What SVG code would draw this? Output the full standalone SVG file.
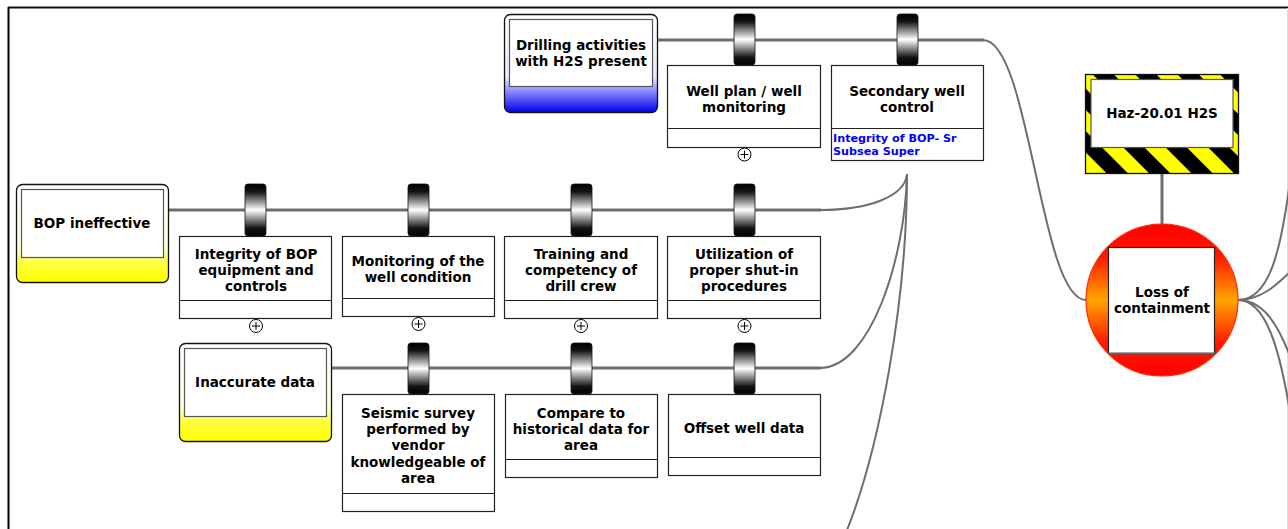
<svg xmlns="http://www.w3.org/2000/svg" width="1288" height="529" viewBox="0 0 1288 529">
  <defs>
    <linearGradient id="gTab" x1="0" y1="0" x2="0" y2="1">
      <stop offset="0" stop-color="#000"/>
      <stop offset="0.15" stop-color="#141414"/>
      <stop offset="0.5" stop-color="#ffffff"/>
      <stop offset="0.85" stop-color="#141414"/>
      <stop offset="1" stop-color="#000"/>
    </linearGradient>
    <linearGradient id="gYellow" x1="0" y1="0" x2="0" y2="1">
      <stop offset="0" stop-color="#ffffff"/>
      <stop offset="0.64" stop-color="#ffffe0"/>
      <stop offset="0.8" stop-color="#ffff40"/>
      <stop offset="1" stop-color="#ffff00"/>
    </linearGradient>
    <linearGradient id="gBlue" x1="0" y1="0" x2="0" y2="1">
      <stop offset="0" stop-color="#ffffff"/>
      <stop offset="0.64" stop-color="#e6e6ff"/>
      <stop offset="0.78" stop-color="#8c8cff"/>
      <stop offset="1" stop-color="#0000f0"/>
    </linearGradient>
    <linearGradient id="gTop" x1="0" y1="0" x2="0" y2="1">
      <stop offset="0" stop-color="#ff0000"/>
      <stop offset="0.22" stop-color="#ff1a00"/>
      <stop offset="0.5" stop-color="#ffa500"/>
      <stop offset="0.78" stop-color="#ff1a00"/>
      <stop offset="1" stop-color="#ff0000"/>
    </linearGradient>
    <pattern id="hazStripes" width="30" height="30" patternUnits="userSpaceOnUse" patternTransform="rotate(-45)">
      <rect width="30" height="30" fill="#ffff00"/>
      <rect width="15" height="30" fill="#000"/>
    </pattern>
    <style>
      text { font-family: "DejaVu Sans", Verdana, sans-serif; font-weight: bold; font-size: 13.5px; fill: #000; text-anchor: middle; }
      .note { font-size: 11.2px; fill: #0000ff; text-anchor: start; }
      .box { fill: #fff; stroke: #222; stroke-width: 1.2; }
      .div { stroke: #222; stroke-width: 1.2; }
      .tab { fill: url(#gTab); stroke: #111; stroke-width: 0.8; }
      .line { fill: none; stroke: #6e6e6e; stroke-width: 3; }
      .curve { fill: none; stroke: #6e6e6e; stroke-width: 2; }
      .inner { fill: #fff; stroke: #555; stroke-width: 1.2; }
      .plus { fill: #fff; stroke: #000; stroke-width: 1; }
    </style>
  </defs>

  <rect width="1288" height="529" fill="#fff"/>

  <!-- page frame -->
  <g id="frame">
    <line x1="8" y1="7.5" x2="1288" y2="7.5" stroke="#111" stroke-width="2"/>
    <line x1="8.5" y1="7" x2="8.5" y2="529" stroke="#000" stroke-width="2"/>
    <line x1="1287.5" y1="8" x2="1287.5" y2="529" stroke="#ddd" stroke-width="1"/>
  </g>

  <!-- connectors -->
  <g id="connectors">
    <path class="line" d="M658,40 H984"/>
    <path class="curve" d="M983,40 C1030,40 1040,300 1086,300"/>
    <path class="line" d="M168,210 H821"/>
    <path class="line" d="M332,368 H821"/>
    <path class="curve" d="M820,210 C870,210 905,196 907,174"/>
    <path class="curve" d="M820,368 C870,368 905,260 907,174"/>
    <path class="curve" d="M907,174 C907,300 880,450 845,535"/>
    <path class="line" d="M1162,173 V226"/>
    <path class="curve" d="M1238,300 C1270,300 1282,250 1292,165"/>
    <path class="curve" d="M1238,300 C1260,300 1276,286 1292,270"/>
    <path class="curve" d="M1238,300 C1262,300 1278,322 1292,362"/>
    <path class="curve" d="M1238,300 C1265,300 1280,345 1292,425"/>
  </g>

  <!-- threat: drilling activities -->
  <g id="threat-drilling">
    <rect x="504.5" y="14.5" width="153" height="98" rx="6" fill="url(#gBlue)" stroke="#111" stroke-width="1.3"/>
    <rect class="inner" x="509.5" y="19.5" width="143" height="67"/>
    <text x="581" y="50">Drilling activities</text>
    <text x="581" y="66">with H2S present</text>
  </g>

  <!-- barrier: well plan -->
  <g id="barrier-well-plan">
    <rect class="tab" x="734" y="14" width="21" height="51" rx="3"/>
    <rect class="box" x="667.5" y="65.5" width="153" height="82"/>
    <line class="div" x1="667.5" y1="128.5" x2="820.5" y2="128.5"/>
    <text x="744" y="96">Well plan / well</text>
    <text x="744" y="112">monitoring</text>
    <circle class="plus" cx="744.5" cy="154.5" r="6.5"/>
    <path d="M740.5,154.5 H748.5 M744.5,150.5 V158.5" stroke="#000" stroke-width="1"/>
  </g>

  <!-- barrier: secondary well control -->
  <g id="barrier-secondary">
    <rect class="tab" x="897" y="14" width="21" height="51" rx="3"/>
    <rect class="box" x="831.5" y="65.5" width="152" height="95"/>
    <line class="div" x1="831.5" y1="128.5" x2="983.5" y2="128.5"/>
    <text x="907" y="96">Secondary well</text>
    <text x="907" y="112">control</text>
    <text class="note" x="833" y="141.5">Integrity of BOP- Sr</text>
    <text class="note" x="833" y="154.5">Subsea Super</text>
  </g>

  <!-- hazard -->
  <g id="hazard">
    <rect x="1085.5" y="74.5" width="153" height="99" fill="url(#hazStripes)" stroke="#111" stroke-width="1.3"/>
    <rect class="inner" x="1091" y="79.5" width="142" height="68" stroke="#777"/>
    <text x="1162" y="118">Haz-20.01 H2S</text>
  </g>

  <!-- top event -->
  <g id="top-event">
    <circle cx="1162" cy="300" r="76" fill="url(#gTop)" stroke="#ff2a00" stroke-width="1.2"/>
    <rect x="1108.5" y="247.5" width="106" height="106" fill="#fff" stroke="#222" stroke-width="1.2"/>
    <line x1="1108" y1="353.5" x2="1215" y2="353.5" stroke="#666" stroke-width="2"/>
    <text x="1162" y="297">Loss of</text>
    <text x="1162" y="313">containment</text>
  </g>

  <!-- escalation factor: BOP ineffective -->
  <g id="factor-bop">
    <rect x="16.5" y="184.5" width="152" height="98" rx="6" fill="url(#gYellow)" stroke="#111" stroke-width="1.3"/>
    <rect class="inner" x="21.5" y="189.5" width="142" height="68"/>
    <text x="92" y="228">BOP ineffective</text>
  </g>

  <g id="barrier-integrity">
    <rect class="tab" x="245" y="184" width="21" height="52" rx="3"/>
    <rect class="box" x="179.5" y="236.5" width="152" height="82"/>
    <line class="div" x1="179.5" y1="300.5" x2="331.5" y2="300.5"/>
    <text x="256" y="259">Integrity of BOP</text>
    <text x="256" y="275">equipment and</text>
    <text x="256" y="291">controls</text>
    <circle class="plus" cx="256" cy="326" r="6.5"/>
    <path d="M252,326 H260 M256,322 V330" stroke="#000" stroke-width="1"/>
  </g>

  <g id="barrier-monitoring">
    <rect class="tab" x="408" y="184" width="21" height="52" rx="3"/>
    <rect class="box" x="342.5" y="236.5" width="152" height="80"/>
    <line class="div" x1="342.5" y1="298.5" x2="494.5" y2="298.5"/>
    <text x="418" y="266">Monitoring of the</text>
    <text x="418" y="282">well condition</text>
    <circle class="plus" cx="418.5" cy="324" r="6.5"/>
    <path d="M414.5,324 H422.5 M418.5,320 V328" stroke="#000" stroke-width="1"/>
  </g>

  <g id="barrier-training">
    <rect class="tab" x="571" y="184" width="21" height="52" rx="3"/>
    <rect class="box" x="504.5" y="236.5" width="153" height="82"/>
    <line class="div" x1="504.5" y1="300.5" x2="657.5" y2="300.5"/>
    <text x="581" y="259">Training and</text>
    <text x="581" y="275">competency of</text>
    <text x="581" y="291">drill crew</text>
    <circle class="plus" cx="581" cy="326" r="6.5"/>
    <path d="M577,326 H585 M581,322 V330" stroke="#000" stroke-width="1"/>
  </g>

  <g id="barrier-shut-in">
    <rect class="tab" x="734" y="184" width="21" height="52" rx="3"/>
    <rect class="box" x="667.5" y="236.5" width="153" height="82"/>
    <line class="div" x1="667.5" y1="300.5" x2="820.5" y2="300.5"/>
    <text x="744" y="259">Utilization of</text>
    <text x="744" y="275">proper shut-in</text>
    <text x="744" y="291">procedures</text>
    <circle class="plus" cx="744.5" cy="326" r="6.5"/>
    <path d="M740.5,326 H748.5 M744.5,322 V330" stroke="#000" stroke-width="1"/>
  </g>

  <!-- escalation factor: inaccurate data -->
  <g id="factor-data">
    <rect x="179.5" y="343.5" width="152" height="98" rx="6" fill="url(#gYellow)" stroke="#111" stroke-width="1.3"/>
    <rect class="inner" x="184.5" y="348.5" width="142" height="68"/>
    <text x="255" y="387">Inaccurate data</text>
  </g>

  <g id="barrier-seismic">
    <rect class="tab" x="408" y="343" width="21" height="51" rx="3"/>
    <rect class="box" x="342.5" y="394.5" width="152" height="117"/>
    <line class="div" x1="342.5" y1="493.5" x2="494.5" y2="493.5"/>
    <text x="418" y="418">Seismic survey</text>
    <text x="418" y="434">performed by</text>
    <text x="418" y="450">vendor</text>
    <text x="418" y="467">knowledgeable of</text>
    <text x="418" y="483">area</text>
  </g>

  <g id="barrier-historical">
    <rect class="tab" x="571" y="343" width="21" height="51" rx="3"/>
    <rect class="box" x="505.5" y="394.5" width="152" height="83"/>
    <line class="div" x1="505.5" y1="459.5" x2="657.5" y2="459.5"/>
    <text x="581" y="418">Compare to</text>
    <text x="581" y="434">historical data for</text>
    <text x="581" y="450">area</text>
  </g>

  <g id="barrier-offset">
    <rect class="tab" x="734" y="343" width="21" height="51" rx="3"/>
    <rect class="box" x="668.5" y="394.5" width="152" height="81"/>
    <line class="div" x1="668.5" y1="457.5" x2="820.5" y2="457.5"/>
    <text x="744" y="433">Offset well data</text>
  </g>
</svg>
